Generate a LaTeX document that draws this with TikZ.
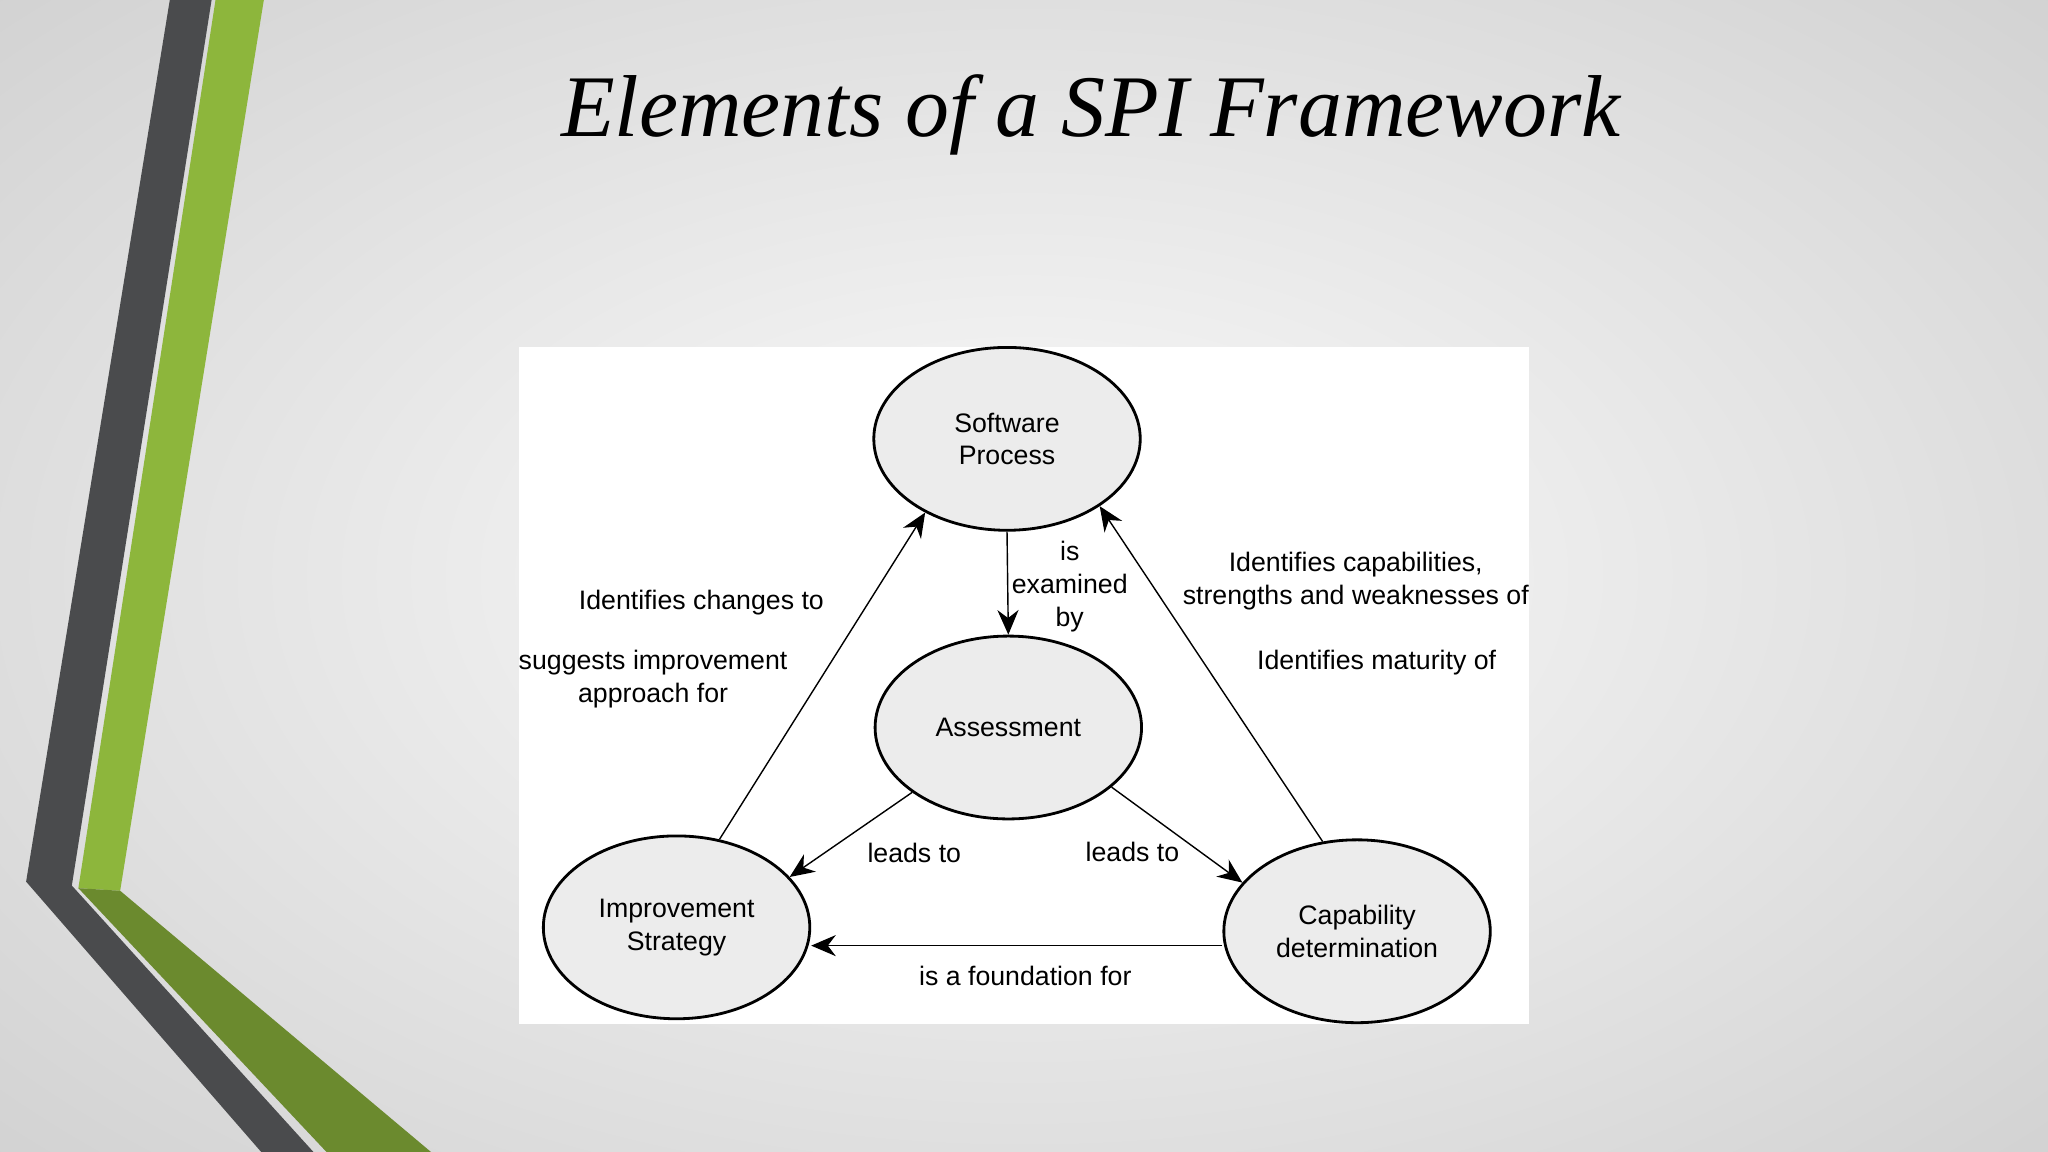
\documentclass[tikz,border=0pt]{standalone}
\usepackage{fontspec}
\setmainfont{Liberation Sans}
\newfontfamily\titlefont{Liberation Serif}
\usetikzlibrary{arrows.meta,shapes.geometric}
\definecolor{gdark}{HTML}{4A4B4D}
\definecolor{ggreen}{HTML}{8DB63C}
\definecolor{ggreend}{HTML}{6B8A2E}
\newlength{\ux}\setlength{\ux}{0.01306cm}
\tikzset{
 ell/.style={draw=black,thick,ellipse,fill=gray!15,minimum width=204\ux,minimum height=140\ux,align=center,font=\fontsize{7.6}{9.3}\selectfont},
 arr/.style={-{Stealth[length=7pt,width=6pt]},thin},
 lab/.style={font=\fontsize{7.6}{9.3}\selectfont,align=center,inner sep=0pt},
}
\begin{document}
\begin{tikzpicture}[x=0.01306cm,y=-0.01306cm]
\useasboundingbox (0,0) rectangle (1568,882);
\shade[inner color=gray!3,outer color=gray!35] (-300,-200) rectangle (1868,1082);
% left decoration
\fill[gdark] (130,0) -- (162,0) -- (55,678) -- (240,882) -- (200,882) -- (20,675) -- cycle;
\fill[ggreen] (165,0) -- (202,0) -- (92,682) -- (60,680) -- cycle;
\fill[ggreend] (60,680) -- (92,682) -- (330,882) -- (250,882) -- cycle;
\node[font=\titlefont\itshape\fontsize{25}{30}\selectfont] (title) at (835,88) {Elements of a SPI Framework};
\fill[white] (397,266) rectangle (1171,784);
\node[ell] (sp) at (771,336) {Software\\Process};
\node[ell] (as) at (772,557) {Assessment};
\node[ell] (is) at (518,710) {Improvement\\Strategy};
\node[ell] (cd) at (1039,713) {Capability\\determination};
\draw[arr] (sp.south) -- (as.north);
\draw[arr] (is.64) -- (sp.222);
\draw[arr] (cd.111) -- (sp.324);
\draw[arr] (as.214) -- (is.24);
\draw[arr] (as.330) -- (cd.157);
\draw[arr] (cd.west |- 0,724) -- (is.east |- 0,724);
\node[lab] (l1) at (819,449) {is\\examined\\by};
\node[lab] (l2) at (537,461) {Identifies changes to};
\node[lab] (l3) at (500,520) {suggests improvement\\approach for};
\node[lab] (l4) at (1038,445) {Identifies capabilities,\\strengths and weaknesses of};
\node[lab] (l5) at (1054,507) {Identifies maturity of};
\node[lab] (l6) at (700,653) {leads to};
\node[lab] (l7) at (867,652) {leads to};
\node[lab] (l8) at (785,747) {is a foundation for};
\end{tikzpicture}
\end{document}
